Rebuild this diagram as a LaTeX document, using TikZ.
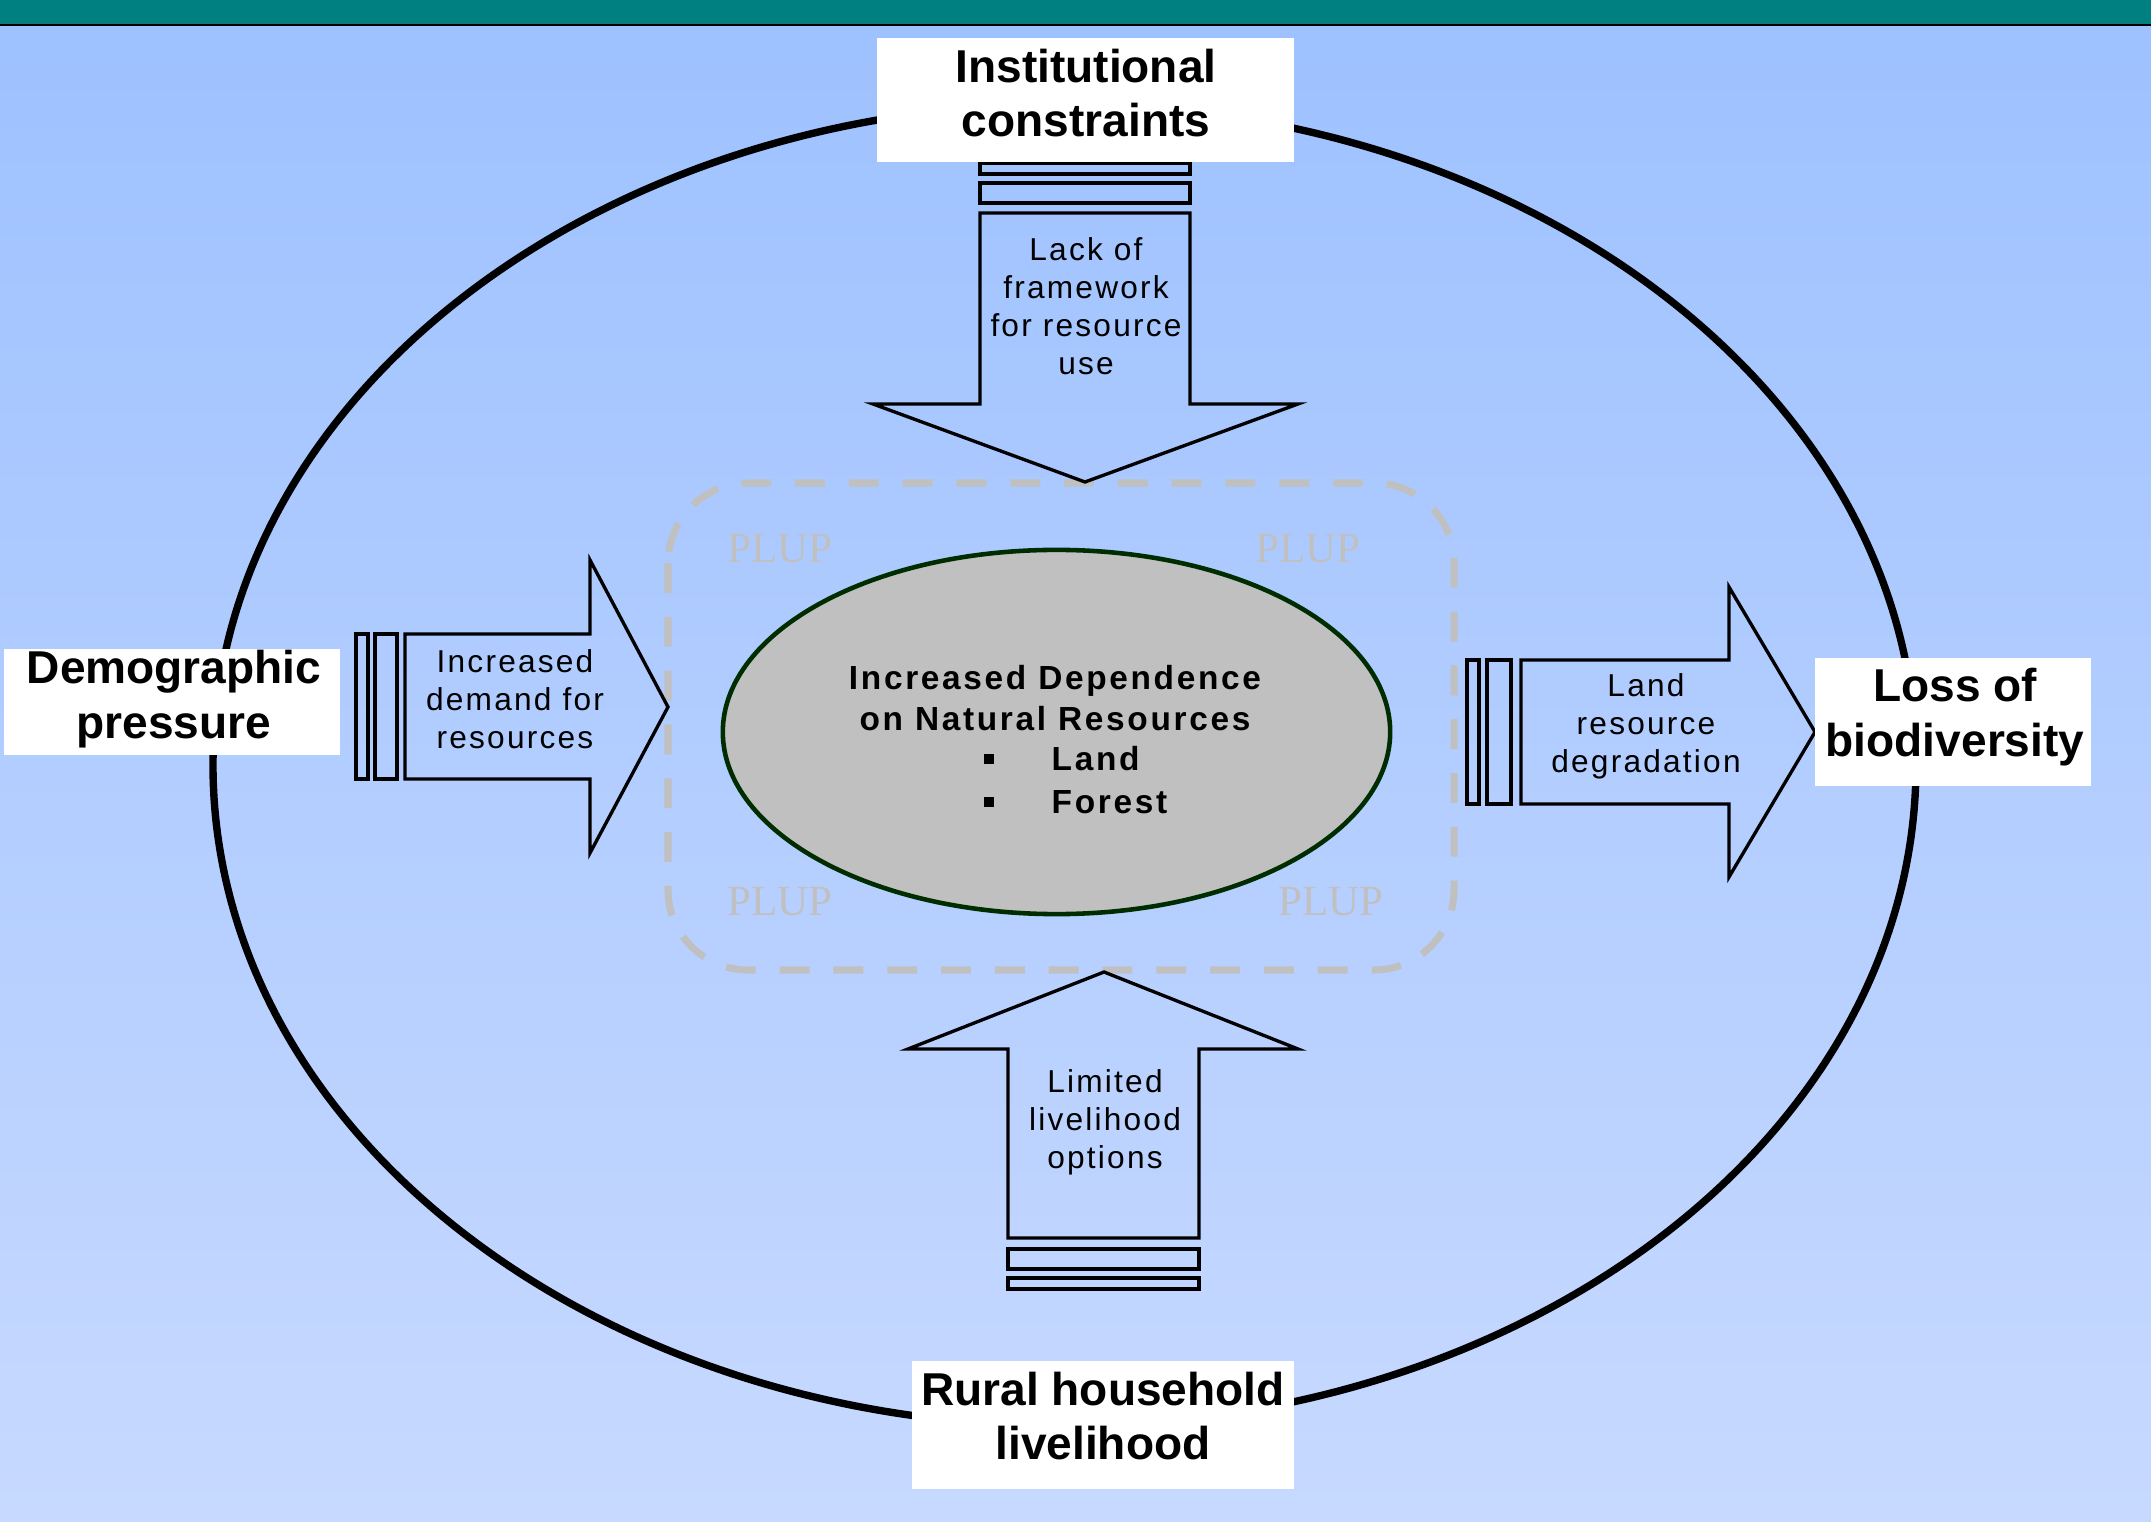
\documentclass[tikz,border=0pt]{standalone}
\usepackage{fontspec}
\setmainfont{Liberation Sans}
\newfontfamily\plupfont{Liberation Serif}
\usetikzlibrary{shapes.geometric}
\definecolor{bgtop}{RGB}{157,193,255}
\definecolor{bgbot}{RGB}{199,217,255}
\definecolor{tealbar}{RGB}{0,128,128}
\definecolor{darkgreen}{RGB}{0,45,0}
\definecolor{silvergray}{RGB}{192,192,192}
\begin{document}
\begin{tikzpicture}[x=0.01cm, y=-0.01cm,
  labelbox/.style={fill=white, draw=none, inner sep=0pt},
  labeltext/.style={align=center, inner sep=0pt,
    font=\fontsize{13.1}{15.6}\selectfont\bfseries},
  blockarrow/.style={draw=black, line width=0.95pt, line join=miter},
  arrowtext/.style={align=center, inner sep=0pt,
    font=\fontsize{9}{10.8}\selectfont\addfontfeatures{LetterSpace=7}},
  deptext/.style={align=center, inner sep=0pt,
    font=\fontsize{9.5}{11.7}\selectfont\bfseries\addfontfeatures{LetterSpace=8}},
  plup/.style={text=silvergray, inner sep=0pt, font=\plupfont\fontsize{12.2}{14}\selectfont},
  sqbullet/.style={fill=black, draw=none, minimum size=0.1cm, inner sep=0pt},
  coreellipse/.style={ellipse, draw=darkgreen, fill=silvergray, line width=1.3pt, inner sep=0pt}
]
\useasboundingbox (0,0) rectangle (2151,1522);
% background
\shade[top color=bgtop, bottom color=bgbot] (0,0) rectangle (2151,1522);
\fill[tealbar] (0,0) rectangle (2151,24);
\draw[black, line width=0.6pt] (0,25) -- (2151,25);

% outer ellipse
\draw[black, line width=2.1pt] (1064.5,765) ellipse [x radius=851.5, y radius=661];

% dashed PLUP frame
\draw[silvergray, line width=2pt, dash pattern=on 8.5pt off 6.8pt, rounded corners=0.8cm]
  (668,483) rectangle (1454,970);
\node[plup] (plup1) at (780,549) {PLUP};
\node[plup] (plup2) at (1308,549) {PLUP};
\node[plup] (plup3) at (780,902) {PLUP};
\node[plup] (plup4) at (1331,902) {PLUP};

% central ellipse
\node[coreellipse, minimum width=6.67cm, minimum height=3.64cm] (dep) at (1056.5,732) {};
\node[deptext] (deptitle) at (1055,698) {Increased Dependence\\on Natural Resources};
\node[sqbullet] (bul1) at (989,759) {};
\node[sqbullet] (bul2) at (989,802) {};
\node[deptext, anchor=west] (land) at (1051,759) {Land};
\node[deptext, anchor=west] (forest) at (1051,802) {Forest};

% top arrow
\draw[blockarrow] (980,163) rectangle (1190,174);
\draw[blockarrow] (980,183) rectangle (1190,203);
\draw[blockarrow] (980,213) -- (1190,213) -- (1190,404) -- (1298,404) -- (1085,482)
  -- (873,404) -- (980,404) -- cycle;
\node[arrowtext] (toptext) at (1086,306) {Lack of\\framework\\for resource\\use};

% left arrow
\draw[blockarrow] (356,634) rectangle (368,779);
\draw[blockarrow] (375,634) rectangle (397,779);
\draw[blockarrow] (405,634) -- (590,634) -- (590,560) -- (668,707) -- (590,853)
  -- (590,779) -- (405,779) -- cycle;
\node[arrowtext] (lefttext) at (515,699) {Increased\\demand for\\resources};

% right arrow
\draw[blockarrow] (1467,660) rectangle (1479,804);
\draw[blockarrow] (1487,660) rectangle (1511,804);
\draw[blockarrow] (1521,660) -- (1729,660) -- (1729,587) -- (1815,732) -- (1729,877)
  -- (1729,804) -- (1521,804) -- cycle;
\node[arrowtext] (righttext) at (1646,726) {Land\\resource\\degradation};

% bottom arrow
\draw[blockarrow] (1008,1249) rectangle (1199,1269);
\draw[blockarrow] (1008,1278) rectangle (1199,1289);
\draw[blockarrow] (1008,1238) -- (1008,1049) -- (908,1049) -- (1104,972) -- (1298,1049)
  -- (1199,1049) -- (1199,1238) -- cycle;
\node[arrowtext] (bottomtext) at (1105,1122) {Limited\\livelihood\\options};

% label boxes
\node[labelbox, minimum width=4.17cm, minimum height=1.24cm] (inst) at (1085.5,100) {};
\node[labeltext] (insttext) at (1086,93) {Institutional\\constraints};
\node[labelbox, minimum width=3.36cm, minimum height=1.06cm] (demo) at (172,702) {};
\node[labeltext] (demotext) at (174,699) {Demographic\\pressure};
\node[labelbox, minimum width=2.76cm, minimum height=1.28cm] (loss) at (1953,722) {};
\node[labeltext] (losstext) at (1955,717) {Loss of\\biodiversity};
\node[labelbox, minimum width=3.82cm, minimum height=1.28cm] (rural) at (1103,1425) {};
\node[labeltext] (ruraltext) at (1103,1416) {Rural household\\livelihood};
\end{tikzpicture}
\end{document}
